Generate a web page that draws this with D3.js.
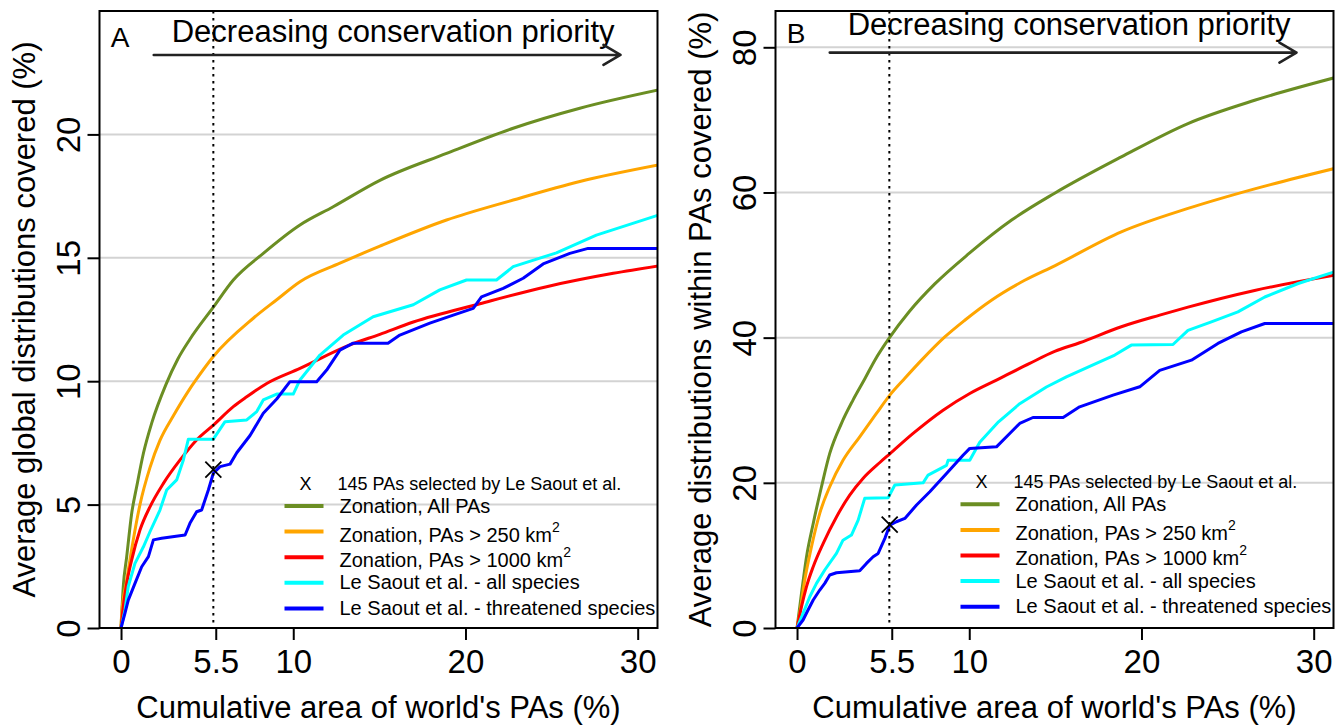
<!DOCTYPE html>
<meta charset="UTF-8">
<script src="https://d3js.org/d3.v7.min.js"></script>
<style>
  body { margin: 0; background: #fff; }
  text { font-family: "Liberation Sans", Arial, sans-serif; }
</style>
<svg id="chart" width="1340" height="725"></svg>
<script>
// ---- data: [cumulative area %, coverage %] ----
// panel A: average global distributions covered
var aZonationAll = [[0,0],[0.13,1.68],[0.33,2.89],[0.62,4.65],[0.91,5.73],[1.3,7.08],[1.78,8.3],[2.6,9.85],[3.3,10.9],
  [4.0,11.7],[5.36,13.0],[6.52,14.1],[8.26,15.18],[10.39,16.33],[12.32,17.07],[15.03,18.14],[18.9,19.23],
  [22.77,20.25],[26.64,21.06],[31.2,21.8]];
var aZonation250 = [[0,0],[0.04,0.6],[0.33,1.94],[0.71,3.57],[1.1,5.0],[1.68,6.5],[2.26,7.6],[3.04,8.6],[3.91,9.6],
  [4.35,10.05],[5.36,11.0],[7.68,12.55],[9.04,13.3],[10.39,14.03],[12.71,14.78],[15.03,15.47],[18.9,16.53],
  [22.77,17.34],[26.64,18.09],[31.2,18.76]];
var aZonation1000 = [[0,0],[0.13,0.86],[0.33,1.81],[0.62,2.76],[1.1,3.97],[1.68,4.91],[2.46,5.86],[3.43,6.81],[4.39,7.62],
  [5.36,8.22],[6.52,8.97],[7.3,9.37],[8.46,9.91],[10.39,10.52],[13.29,11.47],[15.03,11.9],[16.97,12.4],
  [20.84,13.14],[24.71,13.83],[28.58,14.37],[31.2,14.67]];
var aLeSaoutAll = [[0,0],[0.23,0.73],[0.42,1.68],[0.81,2.62],[1.3,3.29],[1.68,3.9],[2.26,4.78],[2.65,5.59],[3.23,6.0],
  [3.62,6.81],[3.91,7.65],[5.36,7.65],[6.04,8.36],[7.3,8.43],[7.88,8.77],[8.26,9.24],[9.04,9.48],[10.0,9.48],
  [10.39,10.05],[11.55,11.06],[12.9,11.87],[14.64,12.61],[16.97,13.1],[18.51,13.7],[20.06,14.1],[21.8,14.1],
  [22.77,14.64],[25.28,15.2],[27.6,15.92],[31.2,16.73]];
var aLeSaoutThreat = [[0,0],[0.23,0.6],[0.42,1.13],[0.81,1.81],[1.2,2.48],[1.59,2.89],[1.88,3.57],[2.36,3.64],[3.72,3.77],
  [4.0,4.24],[4.39,4.71],[4.68,4.78],[5.07,5.59],[5.36,6.27],[5.75,6.54],[6.33,6.64],[6.72,7.1],[7.49,7.8],
  [8.26,8.7],[9.04,9.28],[9.81,9.98],[11.36,9.98],[11.94,10.45],[12.71,11.26],[13.48,11.54],[15.5,11.54],
  [16.19,11.87],[17.93,12.35],[19.29,12.68],[20.45,12.95],[20.93,13.42],[22.19,13.76],[23.35,14.17],
  [24.51,14.75],[26.06,15.18],[27.12,15.38],[31.2,15.38]];

// panel B: average distributions within PAs covered
var bZonationAll = [[0,0],[0.26,4.78],[0.55,9.8],[0.94,14.4],[1.42,19.46],[1.9,24.05],[2.58,28.2],[3.25,31.4],[3.93,34.3],
  [4.52,36.9],[5.36,39.97],[6.52,43.6],[8.0,47.4],[9.99,51.6],[12.46,56.2],[14.96,59.9],[18.83,64.9],
  [22.7,69.5],[26.57,72.7],[31.2,75.8]];
var bZonation250 = [[0,0],[0.16,2.02],[0.45,6.6],[0.84,11.2],[1.32,15.8],[1.9,19.46],[2.67,23.1],[3.64,26.34],[4.61,29.56],
  [5.39,32.08],[6.26,34.4],[7.23,36.9],[8.58,40.1],[9.74,42.4],[11.29,45.16],[13.22,47.9],[14.96,49.9],
  [18.83,54.57],[22.7,57.8],[26.57,60.5],[31.2,63.3]];
var bZonation1000 = [[0,0],[0.26,2.94],[0.55,5.7],[0.94,8.45],[1.52,11.66],[2.29,15.3],[3.06,18.3],[3.83,20.6],[4.81,22.8],
  [5.39,24.0],[6.74,26.8],[8.48,30.0],[10.03,32.3],[11.58,34.15],[13.51,36.45],[14.96,38.1],[16.41,39.3],
  [18.83,41.5],[21.06,43.1],[22.7,44.2],[26.57,46.5],[31.2,48.6]];
var bLeSaoutAll = [[0,0],[0.35,2.02],[0.74,4.3],[1.13,6.15],[1.61,7.99],[2.29,10.28],[2.67,12.1],[3.16,12.8],[3.55,14.87],
  [3.93,17.86],[5.29,17.94],[5.68,19.7],[7.32,20.0],[7.61,21.07],[8.68,22.4],[8.77,23.1],[10.03,23.1],
  [10.61,25.6],[11.7,28.4],[12.93,30.9],[14.48,33.2],[15.64,34.6],[17.38,36.45],[18.45,37.6],[19.41,38.97],
  [21.83,39.06],[22.7,41.0],[24.06,42.18],[25.6,43.55],[27.16,45.6],[29.1,47.46],[31.2,49.06]];
var bLeSaoutThreat = [[0,0],[0.35,1.1],[0.64,2.48],[0.94,3.86],[1.32,5.23],[1.61,6.15],[1.9,7.3],[2.29,7.61],[3.64,7.89],
  [4.03,8.9],[4.42,9.82],[4.71,10.28],[5.1,12.35],[5.39,14.18],[5.77,14.64],[6.26,15.1],[6.94,16.94],
  [7.71,18.77],[8.68,21.3],[9.64,23.8],[10.03,24.74],[11.58,24.96],[12.35,26.8],[12.93,28.18],[13.7,29.0],
  [15.45,29.0],[16.41,30.47],[18.35,32.08],[19.9,33.23],[21.06,35.5],[22.9,36.9],[24.44,39.2],[25.8,40.8],
  [27.16,41.95],[31.2,41.95]];

// the 145 PAs of Le Saout et al. (cumulative area, coverage)
var selectedArea = 5.36;
var markerA = [5.36, 6.42];
var markerB = [5.38, 14.25];

var xTicks = [0, 5.5, 10, 20, 30];
var yTicksA = [0, 5, 10, 15, 20];
var yTicksB = [0, 20, 40, 60, 80];

var seriesLabels = ["Zonation, All PAs", "Zonation, PAs > 250 km", "Zonation, PAs > 1000 km",
  "Le Saout et al. - all species", "Le Saout et al. - threatened species"];
var seriesSup = ["", "2", "2", "", ""];
var seriesColors = ["olivedrab", "orange", "red", "cyan", "blue"];
var markerLabel = "145 PAs selected by Le Saout et al.";

// ---- layout ----
var svg = d3.select("#chart"),
  W = 558, H = 617, plotTop = 11;

var smooth = d3.line().curve(d3.curveMonotoneX);
var steps = d3.line();

function drawPanel(p) {
  var g = svg.append("g").attr("transform", "translate(" + p.left + "," + plotTop + ")");
  var x = d3.scaleLinear().domain([-1.25, 31.15]).range([0, W]);
  var y = d3.scaleLinear().domain([0, p.yMax]).range([H, 0]);

  g.append("clipPath").attr("id", "clip" + p.id)
    .append("rect").attr("width", W).attr("height", H);

  // horizontal grid
  g.selectAll(".grid").data(p.yTicks.filter(function(d) { return d > 0; }))
    .enter().append("line")
    .attr("x1", 0).attr("x2", W)
    .attr("y1", y).attr("y2", y)
    .attr("stroke", "#d3d3d3").attr("stroke-width", 2);

  // curves
  var plot = g.append("g").attr("clip-path", "url(#clip" + p.id + ")");
  p.series.forEach(function(s, i) {
    var gen = i < 3 ? smooth : steps;
    gen.x(function(d) { return x(d[0]); }).y(function(d) { return y(d[1]); });
    plot.append("path").attr("d", gen(s))
      .attr("fill", "none")
      .attr("stroke", seriesColors[i])
      .attr("stroke-width", 3)
      .attr("stroke-linejoin", "round");
  });

  // selected area marker line
  g.append("line")
    .attr("x1", x(selectedArea)).attr("x2", x(selectedArea))
    .attr("y1", 0).attr("y2", H)
    .attr("stroke", "#000").attr("stroke-width", 2)
    .attr("stroke-dasharray", "2.5,4.5");

  g.append("path")
    .attr("transform", "translate(" + x(p.marker[0]) + "," + y(p.marker[1]) + ")")
    .attr("d", "M-8,-8L8,8M-8,8L8,-8")
    .attr("stroke", "#000").attr("stroke-width", 1.8);

  // x axis
  var xa = g.append("g").attr("transform", "translate(0," + H + ")")
    .call(d3.axisBottom(x).tickValues(xTicks).tickSize(12).tickSizeOuter(0)
      .tickFormat(function(d) { return String(d); }));
  xa.attr("font-size", null).attr("font-family", null);
  xa.select(".domain").remove();
  xa.selectAll("line").attr("stroke", "#000").attr("stroke-width", 2);
  xa.selectAll("text").attr("y", 45).attr("dy", 0)
    .attr("font-size", 33).attr("fill", "#000");

  // y axis
  var ya = g.append("g")
    .call(d3.axisLeft(y).tickValues(p.yTicks).tickSize(12).tickSizeOuter(0));
  ya.attr("font-size", null).attr("font-family", null);
  ya.select(".domain").remove();
  ya.selectAll("line").attr("stroke", "#000").attr("stroke-width", 2);
  ya.selectAll("text")
    .attr("transform", "rotate(-90)")
    .attr("x", 0).attr("y", -20).attr("dy", 0)
    .attr("text-anchor", "middle")
    .attr("font-size", 33).attr("fill", "#000");

  // axis titles
  g.append("text")
    .attr("transform", "translate(-65," + (H / 2) + ") rotate(-90)")
    .attr("text-anchor", "middle").attr("font-size", 31)
    .text(p.yTitle);
  g.append("text")
    .attr("x", W / 2).attr("y", 707)
    .attr("text-anchor", "middle").attr("font-size", 31)
    .text("Cumulative area of world's PAs (%)");

  // priority annotation and arrow
  g.append("text")
    .attr("x", x(15.8)).attr("y", y(p.titleY))
    .attr("text-anchor", "middle").attr("font-size", 31)
    .text("Decreasing conservation priority");
  var ax1 = x(1.9), ax2 = x(29.0), ay = y(p.arrowY);
  g.append("path")
    .attr("d", "M" + ax1 + "," + ay + "H" + ax2 +
      "M" + (ax2 - 17) + "," + (ay - 10) + "L" + ax2 + "," + ay + "L" + (ax2 - 17) + "," + (ay + 10))
    .attr("fill", "none").attr("stroke", "#222").attr("stroke-width", 2.6)
    .attr("stroke-linecap", "round").attr("stroke-linejoin", "round");

  g.append("text")
    .attr("x", x(-0.6)).attr("y", y(p.letterY))
    .attr("font-size", 28)
    .text(p.letter);

  // legend
  var leg = g.append("g").attr("transform", "translate(0," + p.legendY + ")");
  leg.append("text").attr("x", 206).attr("y", -22.5 + 6.5)
    .attr("text-anchor", "middle").attr("font-size", 18).text("X");
  leg.append("text").attr("x", 238).attr("y", -22.5 + 6.5)
    .attr("font-size", 18).text(markerLabel);
  seriesLabels.forEach(function(lab, i) {
    var ry = i * 25.6;
    leg.append("line").attr("x1", 185).attr("x2", 224).attr("y1", ry).attr("y2", ry)
      .attr("stroke", seriesColors[i]).attr("stroke-width", 4);
    var t = leg.append("text").attr("x", 240).attr("y", ry + (seriesSup[i] ? 10 : 6.5))
      .attr("font-size", 20).text(lab);
    if (seriesSup[i]) {
      t.append("tspan").attr("font-size", 14).attr("dy", -10).text(seriesSup[i]);
    }
  });

  // frame
  g.append("rect").attr("width", W).attr("height", H)
    .attr("fill", "none").attr("stroke", "#000").attr("stroke-width", 2);
}

drawPanel({
  id: "A", left: 99.5, yMax: 25, yTicks: yTicksA,
  series: [aZonationAll, aZonation250, aZonation1000, aLeSaoutAll, aLeSaoutThreat],
  marker: markerA, yTitle: "Average global distributions covered (%)",
  titleY: 23.74, arrowY: 23.22, letter: "A", letterY: 23.55, legendY: 495
});
drawPanel({
  id: "B", left: 775.5, yMax: 85, yTicks: yTicksB,
  series: [bZonationAll, bZonation250, bZonation1000, bLeSaoutAll, bLeSaoutThreat],
  marker: markerB, yTitle: "Average distributions within PAs covered (%)",
  titleY: 81.65, arrowY: 79.27, letter: "B", letterY: 80.6, legendY: 493.3
});
</script>
